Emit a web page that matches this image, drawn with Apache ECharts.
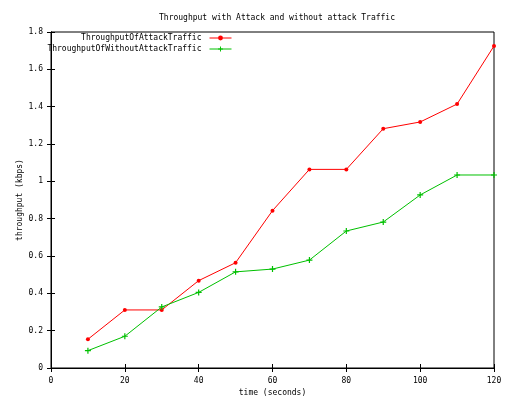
<!DOCTYPE html>
<html><head><meta charset="utf-8">
<script src="https://cdn.jsdelivr.net/npm/echarts@6/dist/echarts.min.js"></script>
<style>html,body{margin:0;padding:0;background:#fff}#c{width:505px;height:398px}</style>
</head><body><div id="c"></div>
<script>
const timeSec = [10, 20, 30, 40, 50, 60, 70, 80, 90, 100, 110, 120];
const attackTraffic = [0.154, 0.311, 0.311, 0.468, 0.564, 0.843, 1.064, 1.064, 1.282, 1.318, 1.414, 1.725];
const withoutAttackTraffic = [0.093, 0.170, 0.327, 0.405, 0.515, 0.530, 0.578, 0.734, 0.782, 0.927, 1.034, 1.034];
const seriesNames = ['ThroughputOfAttackTraffic', 'ThroughputOfWithoutAttackTraffic'];

const F = 'DejaVu Sans Mono';
const fs = 8;
const pair = (xs, ys) => xs.map((x, i) => [x, ys[i]]);
const plus = 'path://M4,0h2v4h4v2h-4v4h-2v-4h-4v-2h4z';

const chart = echarts.init(document.getElementById('c'), null, {renderer: 'canvas'});
const axisCommon = {
  axisLine: {show: true, lineStyle: {color: '#000', width: 1}},
  axisTick: {show: true, inside: true, length: 4, lineStyle: {color: '#000'}},
  splitLine: {show: false},
  axisLabel: {color: '#000', fontFamily: F, fontSize: fs}
};
const legendCommon = {right: 273, align: 'right', itemWidth: 22, itemHeight: 6, itemGap: 0, padding: 0,
  lineStyle: {width: 1}, textStyle: {fontFamily: F, fontSize: fs, color: '#000', padding: [0, 3, 0, 0]}};
chart.setOption({
  animation: false,
  backgroundColor: '#fff',
  title: {text: 'Throughput with Attack and without attack Traffic', left: 272, textAlign: 'center', top: 9,
    textStyle: {fontFamily: F, fontSize: fs, fontWeight: 'normal', color: '#000'}},
  legend: [
    Object.assign({data: [seriesNames[0]], top: 34}, legendCommon),
    Object.assign({data: [seriesNames[1]], top: 45}, legendCommon)
  ],
  grid: {left: 51, top: 32, right: 11, bottom: 30, show: true, borderColor: '#000', borderWidth: 1,
    containLabel: false, outerBoundsMode: 'none'},
  xAxis: [
    Object.assign({}, axisCommon, {type: 'value', min: 0, max: 120, interval: 20,
      name: 'time (seconds)', nameLocation: 'middle', nameGap: 21, nameMoveOverlap: false,
      nameTextStyle: {fontFamily: F, fontSize: fs, color: '#000'},
      axisLabel: {color: '#000', fontFamily: F, fontSize: fs, margin: 9}}),
    Object.assign({}, axisCommon, {type: 'value', min: 0, max: 120, interval: 20, position: 'top',
      axisLabel: {show: false}})
  ],
  yAxis: [
    Object.assign({}, axisCommon, {type: 'value', min: 0, max: 1.8, interval: 0.2,
      name: 'throughput (kbps)', nameLocation: 'middle', nameGap: 31, nameRotate: 90, nameMoveOverlap: false,
      nameTextStyle: {fontFamily: F, fontSize: fs, color: '#000', verticalAlign: 'middle'},
      axisLabel: {color: '#000', fontFamily: F, fontSize: fs, margin: 8,
        formatter: v => (Math.round(v * 10) / 10).toString()}}),
    Object.assign({}, axisCommon, {type: 'value', min: 0, max: 1.8, interval: 0.2, position: 'right',
      axisLabel: {show: false}})
  ],
  series: [
    {name: seriesNames[0], type: 'line', data: pair(timeSec, attackTraffic),
      symbol: 'circle', symbolSize: 4, showAllSymbol: true,
      lineStyle: {color: '#ff0000', width: 1}, itemStyle: {color: '#ff0000'}},
    {name: seriesNames[1], type: 'line', data: pair(timeSec, withoutAttackTraffic),
      symbol: plus, symbolSize: 6, showAllSymbol: true,
      lineStyle: {color: '#00c000', width: 1}, itemStyle: {color: '#00c000'}}
  ]
});
</script></body></html>
